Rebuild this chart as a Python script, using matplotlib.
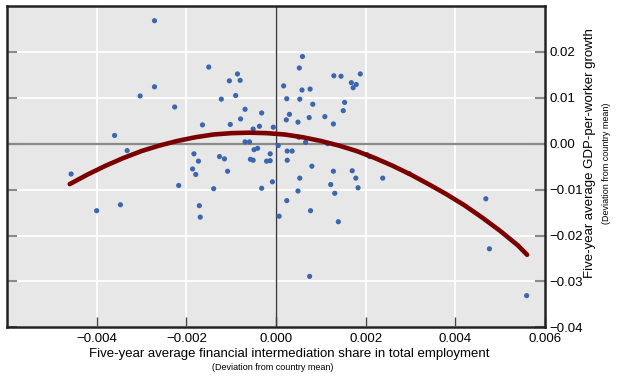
import numpy as np
import matplotlib
matplotlib.use("Agg")
import matplotlib.pyplot as plt

plt.rcParams["font.family"] = ["Liberation Sans", "DejaVu Sans"]

# scatter: deviation of financial intermediation share (x) vs GDP-per-worker growth (y)
fin_share = [
    -0.00271, -0.00150, -0.00086, -0.00104, -0.00080, -0.00271, -0.00303, -0.00122,
    -0.00090, -0.00226, -0.00069, -0.00032, -0.00079, -0.00164, -0.00102, -0.00037,
    -0.00051, -0.00006, -0.00360, -0.00069, -0.00059, 0.00005, -0.00332, -0.00049,
    -0.00041, -0.00183, -0.00013, -0.00126, -0.00115, -0.00173, -0.00057, -0.00051,
    -0.00021, -0.00013, -0.00108, -0.00186, -0.00179, -0.00457, 0.00059, 0.00052,
    0.00017, 0.00058, 0.00076, 0.00024, 0.00053, 0.00082, 0.00030, 0.00023,
    0.00074, 0.00049, 0.00051, 0.00066, 0.00025, 0.00036, 0.00025, 0.00080,
    0.00053, 0.00129, 0.00145, 0.00188, 0.00168, 0.00179, 0.00172, 0.00153,
    0.00150, 0.00109, 0.00128, 0.00115, 0.00203, 0.00209, 0.00128, 0.00170,
    0.00178, 0.00238, 0.00297, -0.00217, -0.00139, -0.00032, -0.00008, -0.00171,
    -0.00169, -0.00400, -0.00347, 0.00007, 0.00024, 0.00049, 0.00077, 0.00075,
    0.00122, 0.00131, 0.00183, 0.00139, 0.00468, 0.00476, 0.00559,
]
gdp_growth = [
    0.0268, 0.0167, 0.0152, 0.0137, 0.0138, 0.0124, 0.0104, 0.0097,
    0.0105, 0.0080, 0.0075, 0.0067, 0.0054, 0.0041, 0.0042, 0.0038,
    0.0032, 0.0036, 0.0018, 0.0004, 0.0004, -0.0004, -0.0015, -0.0013,
    -0.0010, -0.0022, -0.0022, -0.0028, -0.0033, -0.0038, -0.0034, -0.0036,
    -0.0038, -0.0037, -0.0060, -0.0055, -0.0067, -0.0066, 0.0190, 0.0165,
    0.0126, 0.0117, 0.0119, 0.0098, 0.0097, 0.0086, 0.0064, 0.0052,
    0.0057, 0.0047, 0.0014, 0.0003, -0.0016, -0.0016, -0.0036, -0.0049,
    -0.0075, 0.0148, 0.0147, 0.0152, 0.0133, 0.0129, 0.0122, 0.0090,
    0.0072, 0.0059, 0.0043, 0.0000, -0.0024, -0.0028, -0.0060, -0.0059,
    -0.0075, -0.0075, -0.0065, -0.0091, -0.0098, -0.0097, -0.0083, -0.0135,
    -0.0160, -0.0146, -0.0133, -0.0158, -0.0124, -0.0103, -0.0146, -0.0289,
    -0.0089, -0.0108, -0.0096, -0.0170, -0.0120, -0.0229, -0.0331,
]

# fitted curve
fit_x = [-0.0046, -0.0042, -0.0038, -0.0034, -0.0030, -0.0026, -0.0022, -0.0018,
         -0.0014, -0.0010, -0.0006, -0.0002, 0.0002, 0.0006, 0.0010, 0.0014,
         0.0018, 0.0022, 0.0026, 0.0030, 0.0034, 0.0038, 0.0042, 0.0046,
         0.0050, 0.0054, 0.0056]
fit_y = [-0.0088, -0.0067, -0.0048, -0.0031, -0.0016, -0.0004, 0.0006, 0.0014,
         0.0020, 0.0023, 0.0024, 0.0023, 0.0020, 0.0014, 0.0006, -0.0004,
         -0.0016, -0.0031, -0.0048, -0.0067, -0.0088, -0.0110, -0.0134, -0.0161,
         -0.0190, -0.0222, -0.0242]

x_ticks = [-0.004, -0.002, 0.000, 0.002, 0.004, 0.006]
y_ticks = [-0.04, -0.03, -0.02, -0.01, 0.00, 0.01, 0.02]

fig = plt.figure(figsize=(6.29, 3.78), dpi=100)
ax = fig.add_axes([0.0111, 0.1341, 0.8554, 0.8500])
ax.set_facecolor("#e7e7e7")

ax.set_xlim(-0.006, 0.006)
ax.set_ylim(-0.04, 0.03)
ax.set_xticks(x_ticks)
ax.set_yticks(y_ticks)
ax.set_xticklabels([f"{v:.3f}".replace("-", "\u2212") for v in x_ticks])
ax.set_yticklabels([f"{v:.2f}".replace("-", "\u2212") for v in y_ticks])

ax.grid(True, color="white", linewidth=1.3, zorder=0)
ax.set_axisbelow(True)

ax.axhline(0, color="#8a8a8a", linewidth=1.6, zorder=1)
ax.axvline(0, color="#3a3a3a", linewidth=1.0, zorder=1)

ax.scatter(fin_share, gdp_growth, s=14, color="#3c66ad", edgecolors="none", zorder=3)
ax.plot(fit_x, fit_y, color="#7a0000", linewidth=3.3, solid_capstyle="round",
        solid_joinstyle="round", zorder=4)

for side in ["left", "right", "top", "bottom"]:
    ax.spines[side].set_color("#222222")
    ax.spines[side].set_linewidth(1.8)

ax.yaxis.tick_right()
ax.tick_params(axis="y", which="both", left=True, right=True, direction="in",
               length=7, width=1.5, color="#8a8a8a", labelsize=9.5, pad=3)
ax.tick_params(axis="x", direction="in", length=7, width=1.0, color="#444444",
               labelsize=9.5, pad=4)

fig.text(0.460, 0.064, "Five-year average financial intermediation share in total employment",
         ha="center", va="center", fontsize=9.5)
fig.text(0.434, 0.029, "(Deviation from country mean)", ha="center", va="center", fontsize=6.5)
fig.text(0.938, 0.595, "Five-year average GDP-per-worker growth", ha="center", va="center",
         rotation=90, fontsize=9.5)
fig.text(0.965, 0.567, "(Deviation from country mean)", ha="center", va="center",
         rotation=90, fontsize=6.5)

fig.savefig("out.png", dpi=100)
